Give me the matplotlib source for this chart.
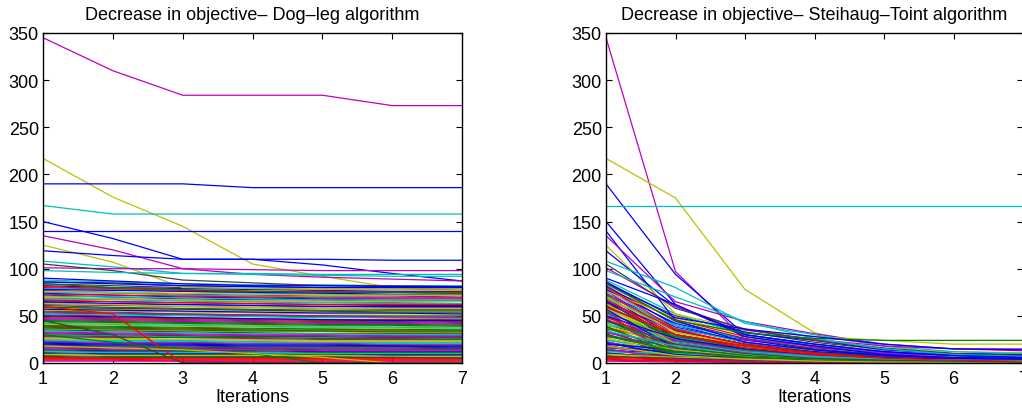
import matplotlib
matplotlib.use("Agg")
import matplotlib.pyplot as plt

plt.rcParams['font.family'] = ['Liberation Sans', 'DejaVu Sans']

iterations = [1, 2, 3, 4, 5, 6, 7]
x_ticks = [1, 2, 3, 4, 5, 6, 7]
y_ticks = [0, 50, 100, 150, 200, 250, 300, 350]
titles = ["Decrease in objective\u2013 Dog\u2013leg algorithm",
          "Decrease in objective\u2013 Steihaug\u2013Toint algorithm"]
xlabel = "Iterations"

# Prominent (high) runs: Dog-leg objective per iteration
dogleg_top = [
    [345, 310, 284, 284, 284, 273, 273],
    [217, 176, 145, 105, 92, 80, 78],
    [190, 190, 190, 186, 186, 186, 186],
    [167, 158, 158, 158, 158, 158, 158],
    [150, 132, 110, 110, 104, 95, 87],
    [140, 140, 140, 140, 140, 140, 140],
    [135, 120, 100, 94, 91, 89, 87],
    [125, 107, 80, 79, 78, 78, 77],
    [119, 114, 110, 110, 110, 109, 109],
    [108, 102, 95, 94, 93, 92, 92],
    [101, 100, 100, 99, 98, 98, 98],
    [105, 98, 88, 85, 82, 82, 81],
    [98, 96, 95, 95, 94, 94, 94],
    [90, 87, 84, 82, 82, 81, 81],
    [84, 80, 78, 76, 75, 75, 74],
    [60, 52, 0, 0, 0, 0, 0],
    [30, 22, 14, 10, 0, 0, 0],
    [18, 16, 14, 10, 6, 0, 0],
    [45, 30, 0, 0, 0, 0, 0],
    [86, 84, 82, 81, 80, 80, 80],
]
# Same runs: Steihaug-Toint objective per iteration
steihaug_top = [
    [345, 97, 25, 18, 10, 8, 7],
    [217, 175, 78, 32, 18, 9, 6],
    [190, 94, 30, 20, 12, 8, 6],
    [167, 167, 167, 167, 167, 167, 167],
    [150, 62, 28, 18, 9, 6, 5],
    [140, 45, 22, 14, 8, 5, 4],
    [135, 65, 44, 31, 20, 15, 13],
    [125, 52, 35, 28, 24, 20, 20],
    [119, 60, 32, 24, 14, 10, 9],
    [108, 80, 42, 30, 18, 12, 10],
    [101, 60, 35, 25, 18, 15, 15],
    [105, 58, 36, 24, 16, 10, 8],
    [98, 70, 44, 26, 15, 9, 7],
    [90, 62, 30, 20, 12, 8, 6],
    [84, 45, 32, 26, 24, 24, 24],
    [60, 30, 18, 10, 5, 3, 2],
    [30, 12, 6, 3, 2, 1, 1],
    [18, 8, 4, 2, 1, 1, 1],
    [45, 20, 10, 5, 3, 2, 1],
    [86, 48, 36, 28, 20, 15, 14],
]
top_colors = ['m', 'y', 'b', 'c', 'b', 'b', 'm', 'y', 'b', 'c',
              'm', 'k', 'c', 'b', 'g', 'r', 'g', 'y', 'k', 'b']

dogleg_band = [
    [88, 86, 84, 83, 83, 82, 82], [86, 85, 82, 81, 80, 80, 80],
    [84, 82, 80, 79, 78, 78, 78], [82, 80, 79, 78, 77, 76, 76],
    [81, 79, 77, 76, 76, 75, 75], [80, 78, 77, 76, 75, 75, 74],
    [79, 78, 76, 74, 73, 72, 72], [78, 77, 76, 75, 74, 73, 73],
    [77, 75, 73, 72, 71, 71, 70], [76, 75, 74, 73, 72, 72, 72],
    [75, 74, 72, 71, 70, 69, 69], [74, 72, 70, 69, 68, 68, 68],
    [73, 72, 71, 70, 69, 69, 69], [72, 70, 68, 67, 67, 66, 66],
    [71, 70, 69, 68, 67, 66, 66], [70, 68, 67, 66, 65, 65, 65],
    [69, 68, 66, 65, 64, 64, 63], [68, 67, 66, 65, 64, 63, 63],
    [67, 65, 64, 63, 62, 62, 62], [66, 65, 64, 63, 62, 61, 61],
    [65, 63, 62, 61, 60, 60, 60], [64, 63, 62, 61, 60, 59, 59],
    [63, 62, 60, 59, 58, 58, 58], [62, 61, 60, 59, 58, 57, 57],
    [61, 59, 58, 57, 56, 56, 56], [60, 58, 57, 56, 55, 55, 55],
    [59, 58, 57, 56, 55, 54, 54], [58, 57, 55, 54, 54, 53, 53],
    [57, 56, 55, 54, 53, 53, 52], [56, 55, 54, 53, 52, 52, 52],
    [55, 54, 52, 51, 50, 50, 50], [54, 53, 52, 51, 50, 49, 49],
    [53, 52, 51, 50, 49, 48, 48], [52, 51, 50, 49, 48, 48, 47],
    [51, 50, 48, 47, 46, 46, 46], [50, 49, 48, 47, 46, 45, 45],
    [49, 48, 47, 46, 45, 45, 44], [48, 47, 46, 45, 44, 44, 43],
    [47, 46, 45, 44, 43, 43, 42], [46, 45, 44, 43, 42, 42, 41],
    [45, 44, 43, 42, 41, 41, 40], [44, 43, 42, 41, 40, 40, 39],
    [43, 42, 41, 40, 39, 39, 38], [42, 41, 40, 39, 38, 38, 37],
    [41, 40, 39, 38, 37, 37, 36], [40, 39, 38, 37, 36, 36, 35],
    [39, 38, 37, 36, 36, 35, 35], [38, 37, 36, 35, 34, 34, 34],
    [37, 36, 35, 34, 34, 33, 33], [36, 35, 34, 33, 33, 32, 32],
    [35, 34, 33, 32, 31, 31, 31], [34, 33, 32, 31, 31, 30, 30],
    [33, 32, 31, 30, 30, 29, 29], [32, 31, 30, 29, 29, 28, 28],
    [31, 30, 29, 28, 28, 27, 27], [30, 29, 28, 28, 27, 27, 26],
    [29, 28, 27, 27, 26, 26, 25], [28, 27, 27, 26, 25, 25, 25],
    [27, 26, 25, 25, 24, 24, 24], [26, 25, 25, 24, 23, 23, 23],
    [25, 24, 24, 23, 22, 22, 22], [24, 23, 23, 22, 22, 21, 21],
    [23, 22, 22, 21, 21, 20, 20], [22, 21, 21, 20, 20, 19, 19],
    [21, 20, 20, 19, 19, 18, 18], [20, 19, 19, 18, 18, 18, 17],
    [19, 18, 18, 17, 17, 17, 16], [18, 17, 17, 16, 16, 16, 15],
    [17, 16, 16, 15, 15, 15, 15], [16, 15, 15, 15, 14, 14, 14],
    [15, 14, 14, 14, 13, 13, 13], [14, 13, 13, 13, 12, 12, 12],
    [13, 12, 12, 12, 11, 11, 11], [12, 11, 11, 11, 10, 10, 10],
    [11, 10, 10, 10, 9, 9, 9], [10, 9, 9, 9, 9, 8, 8],
    [9, 8, 8, 8, 8, 7, 7], [8, 7, 7, 7, 7, 6, 6],
    [7, 6, 6, 6, 6, 6, 5], [6, 5, 5, 5, 5, 5, 5],
    [5, 5, 4, 4, 4, 4, 4], [4, 4, 3, 3, 3, 3, 3],
    [3, 3, 2, 2, 2, 2, 2], [2, 2, 2, 1, 1, 1, 1],
]

steihaug_band = [
    [88, 52, 30, 18, 10, 6, 5], [86, 44, 26, 15, 9, 5, 4],
    [84, 50, 33, 22, 14, 10, 9], [82, 40, 22, 12, 7, 4, 3],
    [81, 36, 18, 10, 6, 3, 3], [80, 46, 28, 17, 11, 7, 6],
    [79, 34, 20, 12, 8, 5, 4], [78, 42, 25, 14, 8, 5, 4],
    [77, 30, 15, 8, 4, 2, 2], [76, 48, 30, 20, 14, 12, 11],
    [75, 28, 14, 7, 4, 2, 2], [74, 38, 22, 13, 8, 5, 5],
    [73, 35, 20, 11, 6, 4, 3], [72, 26, 12, 6, 3, 2, 2],
    [71, 40, 26, 18, 12, 9, 8], [70, 33, 18, 10, 6, 4, 3],
    [69, 24, 12, 6, 3, 2, 1], [68, 37, 22, 14, 9, 6, 5],
    [67, 30, 16, 9, 5, 3, 3], [66, 22, 11, 5, 3, 2, 1],
    [65, 34, 20, 12, 8, 5, 4], [64, 28, 15, 8, 5, 3, 3],
    [63, 20, 9, 5, 3, 2, 1], [62, 36, 24, 16, 11, 9, 8],
    [61, 26, 14, 8, 5, 3, 3], [60, 18, 8, 4, 2, 1, 1],
    [59, 30, 18, 11, 7, 5, 4], [58, 24, 13, 7, 4, 2, 2],
    [57, 16, 7, 4, 2, 1, 1], [56, 32, 20, 13, 9, 7, 6],
    [55, 22, 12, 7, 4, 3, 2], [54, 14, 6, 3, 2, 1, 1],
    [53, 28, 16, 10, 6, 4, 4], [52, 20, 10, 6, 3, 2, 2],
    [51, 12, 5, 3, 2, 1, 1], [50, 26, 15, 9, 6, 4, 3],
    [49, 18, 9, 5, 3, 2, 2], [48, 30, 19, 12, 8, 6, 5],
    [47, 10, 4, 2, 1, 1, 1], [46, 24, 13, 8, 5, 3, 3],
    [45, 16, 8, 4, 2, 1, 1], [44, 28, 18, 12, 8, 6, 5],
    [43, 12, 5, 3, 2, 1, 1], [42, 22, 12, 7, 4, 3, 2],
    [41, 15, 7, 4, 2, 1, 1], [40, 24, 15, 9, 6, 4, 4],
    [39, 9, 4, 2, 1, 1, 1], [38, 20, 11, 6, 4, 3, 2],
    [37, 14, 7, 4, 2, 1, 1], [36, 22, 14, 9, 6, 5, 4],
    [35, 8, 3, 2, 1, 1, 1], [34, 18, 10, 6, 4, 3, 2],
    [33, 12, 6, 3, 2, 1, 1], [32, 20, 12, 8, 5, 4, 3],
    [31, 7, 3, 2, 1, 1, 1], [30, 16, 9, 5, 3, 2, 2],
    [29, 11, 5, 3, 2, 1, 1], [28, 18, 11, 7, 5, 4, 3],
    [27, 6, 3, 2, 1, 1, 1], [26, 14, 8, 5, 3, 2, 2],
    [25, 10, 5, 3, 2, 1, 1], [24, 16, 10, 6, 4, 3, 3],
    [23, 5, 2, 1, 1, 1, 1], [22, 12, 7, 4, 3, 2, 2],
    [21, 9, 4, 2, 1, 1, 1], [20, 14, 9, 6, 4, 3, 3],
    [19, 5, 2, 1, 1, 1, 1], [18, 10, 6, 4, 3, 2, 2],
    [17, 8, 4, 2, 1, 1, 1], [16, 12, 8, 5, 4, 3, 3],
    [15, 4, 2, 1, 1, 1, 1], [14, 9, 5, 3, 2, 2, 1],
    [13, 7, 4, 2, 1, 1, 1], [12, 10, 7, 5, 4, 3, 3],
    [11, 4, 2, 1, 1, 1, 1], [10, 7, 4, 3, 2, 1, 1],
    [9, 6, 4, 3, 2, 2, 2], [8, 3, 2, 1, 1, 1, 1],
    [7, 5, 3, 2, 2, 1, 1], [6, 4, 3, 2, 1, 1, 1],
    [5, 3, 2, 1, 1, 1, 1], [4, 2, 1, 1, 1, 1, 1],
    [3, 2, 1, 1, 1, 1, 1], [2, 1, 1, 1, 1, 1, 1],
]

matlab = {'b': (0, 0, 1), 'g': (0, 0.5, 0), 'r': (1, 0, 0),
          'c': (0, 0.75, 0.75), 'm': (0.75, 0, 0.75),
          'y': (0.75, 0.75, 0), 'k': (0.25, 0.25, 0.25)}
cycle = ['b', 'g', 'r', 'c', 'm', 'y', 'k']

fig = plt.figure(figsize=(10.22, 4.10), dpi=100)
W, H = 1022.0, 410.0
positions = [[43 / W, (H - 364) / H, 419 / W, 330 / H],
             [606 / W, (H - 364) / H, 417 / W, 330 / H]]

for k, (band, top) in enumerate([(dogleg_band, dogleg_top),
                                 (steihaug_band, steihaug_top)]):
    ax = fig.add_axes(positions[k])
    order = [11, 37, 5, 60, 23, 49, 2, 71, 30, 16, 55, 8, 42, 66, 19, 77,
             34, 0, 52, 27, 63, 13, 45, 80, 6, 39, 58, 21, 74, 32, 47, 10,
             68, 25, 54, 3, 41, 82, 17, 62, 29, 50, 7, 72, 36, 14, 57, 44,
             1, 65, 24, 79, 33, 53, 9, 69, 20, 46, 4, 61, 38, 15, 75, 28,
             56, 12, 43, 83, 22, 67, 35, 48, 18, 73, 31, 59, 26, 64, 40, 81,
             51, 70, 76, 78]
    for j, i in enumerate(order):
        ax.plot(iterations, band[i], color=matlab[cycle[j % 7]], lw=0.9)
    for i, row in enumerate(top):
        ax.plot(iterations, row, color=matlab[top_colors[i]], lw=0.9)
    ax.set_xlim(1, 7)
    ax.set_ylim(0, 350)
    ax.set_xticks(x_ticks)
    ax.set_yticks(y_ticks)
    ax.tick_params(direction='in', top=True, right=True, length=4,
                   labelsize=13, width=0.8)
    ax.tick_params(axis='y', pad=3)
    ax.tick_params(axis='x', pad=5)
    for s in ax.spines.values():
        s.set_linewidth(1.0)
    ax.set_title(titles[k], fontsize=13, pad=10)
    ax.set_xlabel(xlabel, fontsize=13, labelpad=1)

fig.savefig("out.png", dpi=100)
